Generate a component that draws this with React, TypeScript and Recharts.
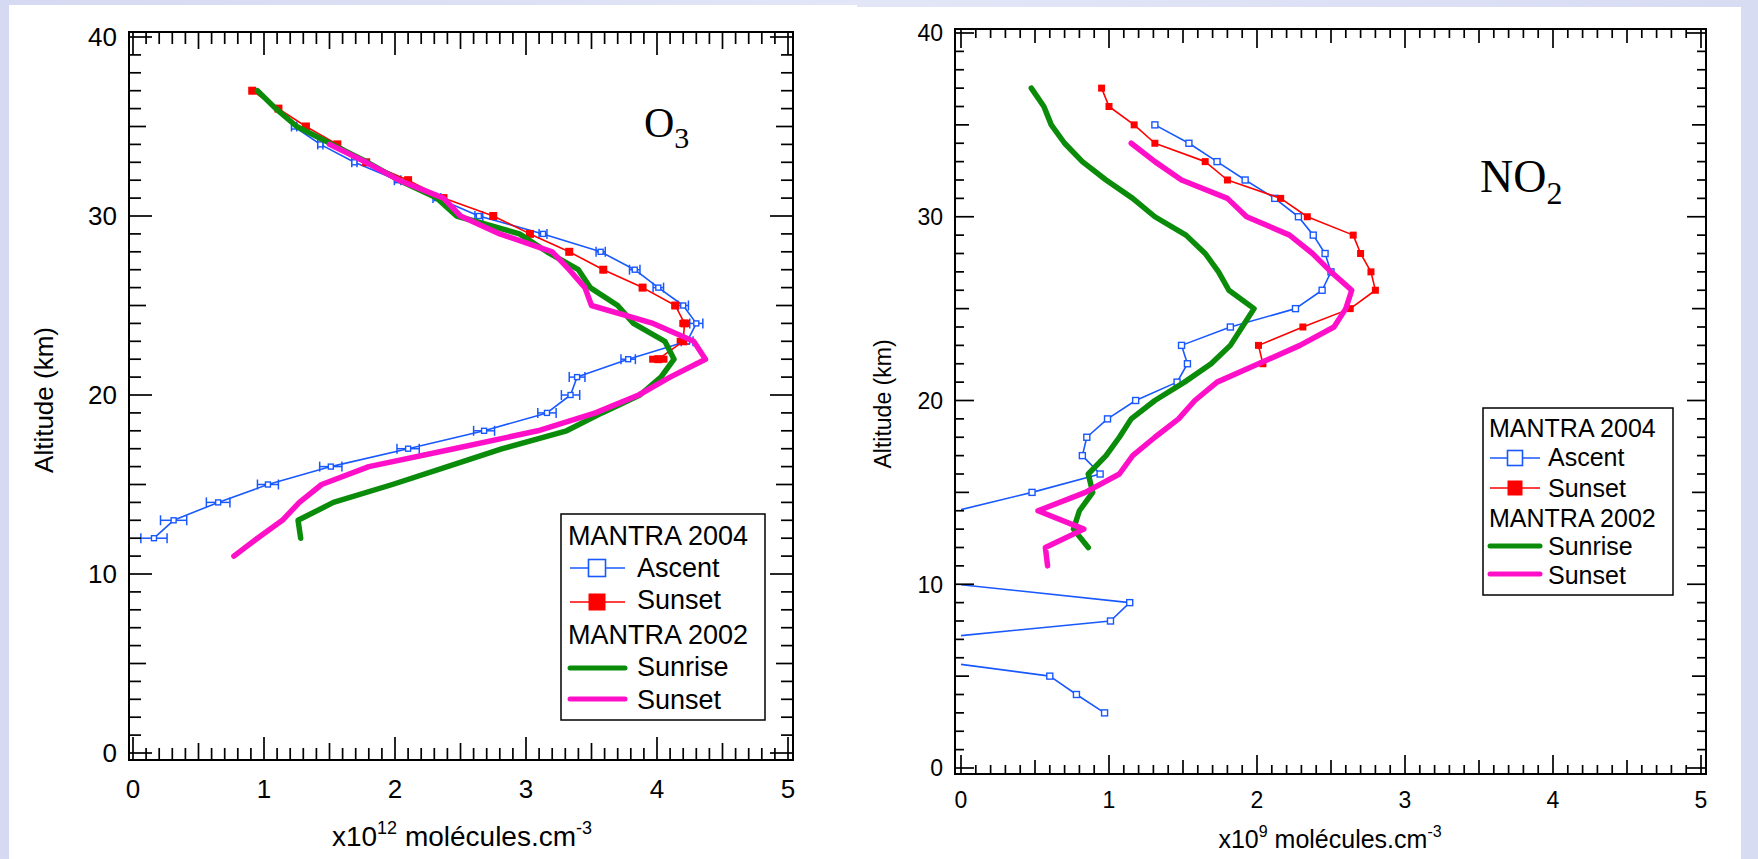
import React from 'react';
import { ScatterChart, Scatter, XAxis, YAxis, ErrorBar, ReferenceArea } from 'recharts';

const SANS = '"Liberation Sans", Arial, Helvetica, sans-serif';
const SERIF = '"Liberation Serif", "Times New Roman", serif';

const BLUE = '#1858ff';
const RED = '#ff0000';
const GREEN = '#0a8c0a';
const MAGENTA = '#ff10c8';

// ---- O3 profiles (x10^12 molecules/cm3), altitude in km ----
const o3AscentAlt = [35, 34, 33, 32, 31, 30, 29, 28, 27, 26, 25, 24, 23, 22, 21, 20, 19, 18, 17, 16, 15, 14, 13, 12];
const o3AscentVal = [1.23, 1.43, 1.69, 2.02, 2.32, 2.64, 3.13, 3.57, 3.83, 4.01, 4.2, 4.3, 4.23, 3.78, 3.39, 3.34, 3.16, 2.68, 2.1, 1.51, 1.03, 0.65, 0.31, 0.16];
const o3AscentErr = [0.02, 0.02, 0.02, 0.025, 0.03, 0.03, 0.03, 0.035, 0.04, 0.04, 0.04, 0.05, 0.045, 0.055, 0.06, 0.07, 0.07, 0.08, 0.085, 0.085, 0.08, 0.09, 0.1, 0.1];

const o3Sunset04Alt = [37, 36, 35, 34, 33, 32, 31, 30, 29, 28, 27, 26, 25, 24, 23, 22];
const o3Sunset04Val = [0.91, 1.11, 1.32, 1.56, 1.78, 2.1, 2.37, 2.75, 3.03, 3.33, 3.59, 3.89, 4.14, 4.21, 4.2, 4.01];
const o3Sunset04Err = [0.01, 0.01, 0.01, 0.01, 0.01, 0.01, 0.01, 0.01, 0.01, 0.01, 0.01, 0.01, 0.03, 0.04, 0.05, 0.07];

const o3Sunrise02Alt = [37, 36, 35, 34, 33, 32, 31, 30, 29, 28, 27, 26, 25, 24, 23, 22, 21, 20, 19, 18, 17, 16, 15, 14, 13, 12];
const o3Sunrise02Val = [0.95, 1.09, 1.25, 1.52, 1.79, 2.03, 2.32, 2.47, 2.95, 3.16, 3.4, 3.49, 3.7, 3.82, 4.06, 4.13, 4.03, 3.87, 3.58, 3.31, 2.82, 2.4, 1.98, 1.53, 1.26, 1.28];

const o3Sunset02Alt = [34, 33, 32, 31, 30, 29, 28, 27, 26, 25, 24, 23, 22, 21, 20, 19, 18, 17, 16, 15, 14, 13, 12, 11];
const o3Sunset02Val = [1.5, 1.78, 2.03, 2.37, 2.5, 2.8, 3.2, 3.33, 3.45, 3.5, 3.97, 4.28, 4.37, 4.1, 3.86, 3.53, 3.09, 2.45, 1.8, 1.44, 1.27, 1.14, 0.95, 0.77];

// ---- NO2 profiles (x10^9 molecules/cm3) ----
const no2AscentAlt = [35, 34, 33, 32, 31, 30, 29, 28, 27, 26, 25, 24, 23, 22, 21, 20, 19, 18, 17, 16, 15, 14, 13, 12, 11, 10, 9, 8, 7, 6, 5, 4, 3];
const no2AscentVal = [1.31, 1.54, 1.73, 1.92, 2.12, 2.28, 2.38, 2.46, 2.5, 2.44, 2.26, 1.82, 1.49, 1.53, 1.46, 1.18, 0.99, 0.85, 0.82, 0.94, 0.48, -0.03, -0.5, -0.8, -0.4, -0.03, 1.14, 1.01, -0.26, -0.34, 0.6, 0.78, 0.97];

const no2Sunset04Alt = [37, 36, 35, 34, 33, 32, 31, 30, 29, 28, 27, 26, 25, 24, 23, 22];
const no2Sunset04Val = [0.95, 1.0, 1.17, 1.31, 1.65, 1.8, 2.16, 2.34, 2.65, 2.7, 2.77, 2.8, 2.63, 2.31, 2.01, 2.04];

const no2Sunrise02Alt = [37, 36, 35, 34, 33, 32, 31, 30, 29, 28, 27, 26, 25, 24, 23, 22, 21, 20, 19, 18, 17, 16, 15, 14, 13, 12];
const no2Sunrise02Val = [0.475, 0.56, 0.61, 0.7, 0.82, 0.98, 1.16, 1.31, 1.52, 1.65, 1.74, 1.81, 1.98, 1.9, 1.82, 1.69, 1.51, 1.31, 1.15, 1.07, 0.98, 0.86, 0.89, 0.8, 0.76, 0.86];

const no2Sunset02Alt = [34, 33, 32, 31, 30, 29, 28, 27, 26, 25, 24, 23, 22, 21, 20, 19, 18, 17, 16, 15, 14, 13, 12, 11];
const no2Sunset02Val = [1.15, 1.31, 1.49, 1.8, 1.93, 2.22, 2.375, 2.5, 2.64, 2.6, 2.52, 2.29, 2.01, 1.73, 1.58, 1.47, 1.31, 1.16, 1.07, 0.84, 0.52, 0.83, 0.57, 0.585];

// ---- axes ----
const xLabels = [0, 1, 2, 3, 4, 5];
const yLabels = [0, 10, 20, 30, 40];
const xTicks = Array.from({ length: 51 }, (_, i) => i / 10);
const yTicks = Array.from({ length: 41 }, (_, i) => i);

type Pt = { x: number; y: number; err: number };
const profile = (alt: number[], val: number[], err?: number[]): Pt[] =>
  alt.map((y, i) => ({ x: val[i], y, err: err ? err[i] : 0 }));

interface SeriesSpec {
  name: string;
  data: Pt[];
  color: string;
  width: number;
  marker: 'none' | 'hollow' | 'filled';
  size?: number;
  err?: { cap: number; width: number };
}

interface PanelSpec {
  left: number;
  width: number;
  plot: { left: number; top: number; right: number; bottom: number };
  gap: { l: number; r: number; t: number; b: number };
  tick: { minor: number; mid: number; major: number };
  tickFont: number;
  xLabelDy: number;
  yLabelDx: number;
  series: SeriesSpec[];
}

const o3Panel: PanelSpec = {
  left: 0,
  width: 860,
  plot: { left: 133, top: 37, right: 788, bottom: 753 },
  gap: { l: 4, r: 5, t: 5, b: 7 },
  tick: { minor: 12, mid: 17, major: 23 },
  tickFont: 26,
  xLabelDy: 38,
  yLabelDx: 12,
  series: [
    { name: 'Ascent', data: profile(o3AscentAlt, o3AscentVal, o3AscentErr), color: BLUE, width: 1.6, marker: 'hollow', size: 5, err: { cap: 5, width: 1.5 } },
    { name: 'Sunset 2004', data: profile(o3Sunset04Alt, o3Sunset04Val, o3Sunset04Err), color: RED, width: 1.6, marker: 'filled', size: 8, err: { cap: 0, width: 7 } },
    { name: 'Sunrise', data: profile(o3Sunrise02Alt, o3Sunrise02Val), color: GREEN, width: 5.5, marker: 'none' },
    { name: 'Sunset 2002', data: profile(o3Sunset02Alt, o3Sunset02Val), color: MAGENTA, width: 5.5, marker: 'none' },
  ],
};

const no2Panel: PanelSpec = {
  left: 860,
  width: 898,
  plot: { left: 961, top: 33, right: 1701, bottom: 768 },
  gap: { l: 6, r: 5, t: 4, b: 6 },
  tick: { minor: 9, mid: 14, major: 19 },
  tickFont: 23,
  xLabelDy: 34,
  yLabelDx: 12,
  series: [
    { name: 'Ascent', data: profile(no2AscentAlt, no2AscentVal), color: BLUE, width: 1.6, marker: 'hollow', size: 6 },
    { name: 'Sunset 2004', data: profile(no2Sunset04Alt, no2Sunset04Val), color: RED, width: 1.6, marker: 'filled', size: 7 },
    { name: 'Sunrise', data: profile(no2Sunrise02Alt, no2Sunrise02Val), color: GREEN, width: 5.5, marker: 'none' },
    { name: 'Sunset 2002', data: profile(no2Sunset02Alt, no2Sunset02Val), color: MAGENTA, width: 5.5, marker: 'none' },
  ],
};

const makeXTick = (p: PanelSpec, top: boolean) => (props: any) => {
  const { x, y, payload } = props;
  const tenth = Math.round(payload.value * 10);
  const len = tenth % 10 === 0 ? p.tick.major : tenth % 5 === 0 ? p.tick.mid : p.tick.minor;
  const edge = top ? y - p.gap.t : y + p.gap.b;
  const end = top ? edge + len : edge - len;
  const showLabel = !top && xLabels.includes(tenth / 10);
  return (
    <g>
      <line x1={x} x2={x} y1={edge} y2={end} stroke="#000" strokeWidth={1.7} />
      {showLabel && (
        <text x={x} y={edge + p.xLabelDy} textAnchor="middle" fontSize={p.tickFont} fontFamily={SANS} fill="#000">
          {tenth / 10}
        </text>
      )}
    </g>
  );
};

const makeYTick = (p: PanelSpec, right: boolean) => (props: any) => {
  const { x, y, payload } = props;
  const v = Math.round(payload.value);
  const len = v % 10 === 0 ? p.tick.major : v % 5 === 0 ? p.tick.mid : p.tick.minor;
  const edge = right ? x + p.gap.r : x - p.gap.l;
  const end = right ? edge - len : edge + len;
  const showLabel = !right && yLabels.includes(v);
  return (
    <g>
      <line x1={edge} x2={end} y1={y} y2={y} stroke="#000" strokeWidth={1.7} />
      {showLabel && (
        <text x={edge - p.yLabelDx} y={y + p.tickFont * 0.36} textAnchor="end" fontSize={p.tickFont} fontFamily={SANS} fill="#000">
          {v}
        </text>
      )}
    </g>
  );
};

const markerShape = (s: SeriesSpec) => (props: any) => {
  const { cx, cy } = props;
  if (s.marker === 'none' || cx == null || cy == null) return <g />;
  const h = (s.size ?? 6) / 2;
  if (s.marker === 'filled') {
    return <rect x={cx - h} y={cy - h} width={h * 2} height={h * 2} fill={s.color} />;
  }
  return <rect x={cx - h} y={cy - h} width={h * 2} height={h * 2} fill="#fff" stroke={s.color} strokeWidth={1.4} />;
};

// axes get a 1px band (a 0px axis is not drawn at all)
const AX = 1;

function ProfilePanel({ spec }: { spec: PanelSpec }) {
  const { plot, gap } = spec;
  const pxX = (plot.right - plot.left) / 5;
  const pxY = (plot.bottom - plot.top) / 40;
  const axisCommon = { tickSize: 0, tickMargin: 0, axisLine: false, tickLine: false, allowDataOverflow: true, interval: 0 as const };
  return (
    <div style={{ position: 'absolute', left: spec.left, top: 0 }}>
      <ScatterChart
        width={spec.width}
        height={859}
        margin={{
          top: plot.top - AX,
          bottom: 859 - plot.bottom - AX,
          left: plot.left - spec.left - AX,
          right: spec.left + spec.width - plot.right - AX,
        }}
      >
        <XAxis {...axisCommon} xAxisId={0} type="number" dataKey="x" domain={[0, 5]} ticks={xTicks} height={AX} tick={makeXTick(spec, false)} />
        <XAxis {...axisCommon} xAxisId="top" orientation="top" type="number" dataKey="x" domain={[0, 5]} ticks={xTicks} height={AX} tick={makeXTick(spec, true)} />
        <YAxis {...axisCommon} yAxisId={0} type="number" dataKey="y" domain={[0, 40]} ticks={yTicks} width={AX} tick={makeYTick(spec, false)} />
        <YAxis {...axisCommon} yAxisId="right" orientation="right" type="number" dataKey="y" domain={[0, 40]} ticks={yTicks} width={AX} tick={makeYTick(spec, true)} />
        <ReferenceArea
          x1={-gap.l / pxX}
          x2={5 + gap.r / pxX}
          y1={-gap.b / pxY}
          y2={40 + gap.t / pxY}
          ifOverflow="visible"
          fill="none"
          fillOpacity={0}
          stroke="#000"
          strokeWidth={2}
        />
        {spec.series.map((s) => (
          <Scatter
            key={s.name}
            name={s.name}
            data={s.data}
            fill={s.color}
            line={{ stroke: s.color, strokeWidth: s.width, strokeLinejoin: 'round', strokeLinecap: 'round' }}
            lineJointType="linear"
            shape={markerShape(s)}
            isAnimationActive={false}
          >
            {s.err && (
              <ErrorBar dataKey="err" direction="x" width={s.err.cap} stroke={s.color} strokeWidth={s.err.width} isAnimationActive={false} />
            )}
          </Scatter>
        ))}
      </ScatterChart>
    </div>
  );
}

type LegendRow =
  | { kind: 'head'; text: string; base: number }
  | { kind: 'item'; text: string; base: number; lineY: number; color: string; sym: 'hollow' | 'filled' | 'thick' };

interface LegendSpec {
  x: number;
  y: number;
  w: number;
  h: number;
  font: number;
  headX: number;
  textX: number;
  line: [number, number];
  markX: number;
  markSize: number;
  rows: LegendRow[];
}

const o3Legend: LegendSpec = {
  x: 561, y: 514, w: 204, h: 206, font: 27, headX: 7, textX: 76, line: [9, 64], markX: 36, markSize: 17,
  rows: [
    { kind: 'head', text: 'MANTRA 2004', base: 31 },
    { kind: 'item', text: 'Ascent', base: 63, lineY: 54, color: BLUE, sym: 'hollow' },
    { kind: 'item', text: 'Sunset', base: 95, lineY: 88, color: RED, sym: 'filled' },
    { kind: 'head', text: 'MANTRA 2002', base: 130 },
    { kind: 'item', text: 'Sunrise', base: 162, lineY: 154, color: GREEN, sym: 'thick' },
    { kind: 'item', text: 'Sunset', base: 195, lineY: 185, color: MAGENTA, sym: 'thick' },
  ],
};

const no2Legend: LegendSpec = {
  x: 1483, y: 408, w: 190, h: 187, font: 25, headX: 6, textX: 65, line: [7, 57], markX: 32, markSize: 15,
  rows: [
    { kind: 'head', text: 'MANTRA 2004', base: 29 },
    { kind: 'item', text: 'Ascent', base: 58, lineY: 50, color: BLUE, sym: 'hollow' },
    { kind: 'item', text: 'Sunset', base: 89, lineY: 80, color: RED, sym: 'filled' },
    { kind: 'head', text: 'MANTRA 2002', base: 119 },
    { kind: 'item', text: 'Sunrise', base: 147, lineY: 138, color: GREEN, sym: 'thick' },
    { kind: 'item', text: 'Sunset', base: 176, lineY: 166, color: MAGENTA, sym: 'thick' },
  ],
};

function LegendBox({ l }: { l: LegendSpec }) {
  const hs = l.markSize / 2;
  return (
    <g transform={`translate(${l.x},${l.y})`}>
      <rect x={0} y={0} width={l.w} height={l.h} fill="#fff" stroke="#000" strokeWidth={1.5} />
      {l.rows.map((r, i) => {
        if (r.kind === 'head') {
          return (
            <text key={i} x={l.headX} y={r.base} fontSize={l.font} fontFamily={SANS} fill="#000">
              {r.text}
            </text>
          );
        }
        return (
          <g key={i}>
            <line x1={l.line[0]} x2={l.line[1]} y1={r.lineY} y2={r.lineY} stroke={r.color} strokeWidth={r.sym === 'thick' ? 5 : 1.5} strokeLinecap={r.sym === 'thick' ? 'round' : 'butt'} />
            {r.sym === 'hollow' && (
              <rect x={l.markX - hs} y={r.lineY - hs} width={l.markSize} height={l.markSize} fill="#fff" stroke={r.color} strokeWidth={1.6} />
            )}
            {r.sym === 'filled' && <rect x={l.markX - hs} y={r.lineY - hs} width={l.markSize} height={l.markSize} fill={r.color} />}
            <text x={l.textX} y={r.base} fontSize={l.font} fontFamily={SANS} fill="#000">
              {r.text}
            </text>
          </g>
        );
      })}
    </g>
  );
}

export default function App() {
  return (
    <div
      style={{
        position: 'absolute',
        left: 0,
        top: 0,
        width: 1758,
        height: 859,
        overflow: 'hidden',
        background: 'linear-gradient(90deg, #d5daf2 0%, #e3e6f7 50%, #d8dcf3 100%)',
      }}
    >
      <div style={{ position: 'absolute', left: 9, top: 5, width: 848, height: 854, background: '#fff' }} />
      <div style={{ position: 'absolute', left: 857, top: 7, width: 884, height: 852, background: '#fff' }} />
      <ProfilePanel spec={o3Panel} />
      <ProfilePanel spec={no2Panel} />
      <svg width={1758} height={859} style={{ position: 'absolute', left: 0, top: 0, pointerEvents: 'none' }}>
        {/* axis titles */}
        <text transform="rotate(-90 53 400)" x={53} y={400} textAnchor="middle" fontSize={26} fontFamily={SANS} fill="#000">
          Altitude (km)
        </text>
        <text transform="rotate(-90 891 404)" x={891} y={404} textAnchor="middle" fontSize={23} fontFamily={SANS} fill="#000">
          Altitude (km)
        </text>
        <text x={462} y={846} textAnchor="middle" fontSize={28} fontFamily={SANS} fill="#000">
          x10<tspan dy={-12} fontSize={18}>12</tspan>
          <tspan dy={12}> molécules.cm</tspan>
          <tspan dy={-12} fontSize={18}>-3</tspan>
        </text>
        <text x={1330} y={848} textAnchor="middle" fontSize={25} fontFamily={SANS} fill="#000">
          x10<tspan dy={-11} fontSize={16}>9</tspan>
          <tspan dy={11}> molécules.cm</tspan>
          <tspan dy={-11} fontSize={16}>-3</tspan>
        </text>
        {/* species labels */}
        <text x={644} y={137} fontSize={42} fontFamily={SERIF} fill="#000">
          O<tspan dy={11} fontSize={30}>3</tspan>
        </text>
        <text x={1480} y={192} fontSize={46} fontFamily={SERIF} fill="#000">
          NO<tspan dy={12} fontSize={32}>2</tspan>
        </text>
        <LegendBox l={o3Legend} />
        <LegendBox l={no2Legend} />
      </svg>
    </div>
  );
}
